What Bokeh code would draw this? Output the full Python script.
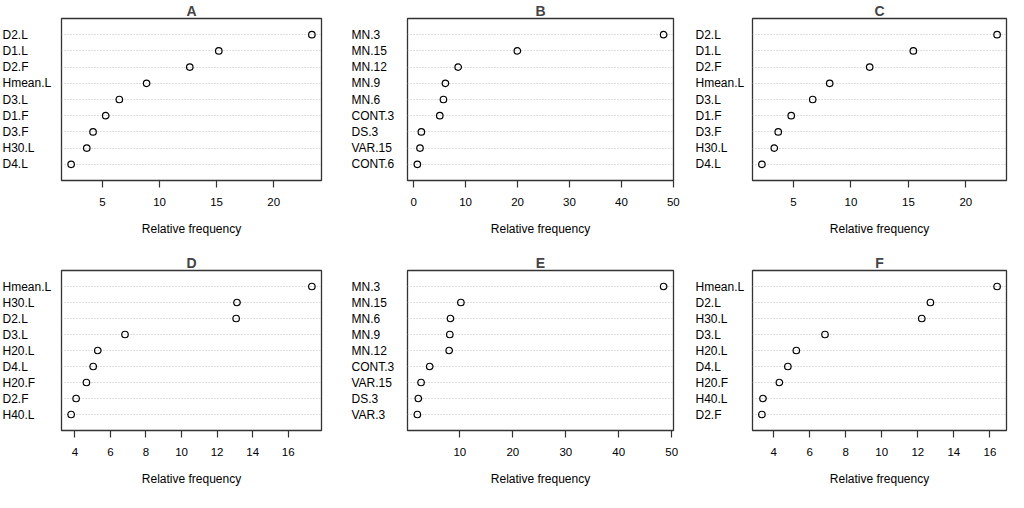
from bokeh.plotting import figure
from bokeh.layouts import column, row
from bokeh.models import Range1d, FixedTicker, Grid
from bokeh.core.properties import value
from bokeh.embed import file_html
from bokeh.resources import INLINE

# ---- data ----
titles = ["A", "B", "C", "D", "E", "F"]

A_labels = ["D2.L", "D1.L", "D2.F", "Hmean.L", "D3.L", "D1.F", "D3.F", "H30.L", "D4.L"]
A_values = [23.34, 15.19, 12.65, 8.87, 6.48, 5.29, 4.18, 3.63, 2.26]
A_ticks = [5, 10, 15, 20]

B_labels = ["MN.3", "MN.15", "MN.12", "MN.9", "MN.6", "CONT.3", "DS.3", "VAR.15", "CONT.6"]
B_values = [48.13, 19.97, 8.57, 6.12, 5.73, 5.03, 1.48, 1.22, 0.71]
B_ticks = [0, 10, 20, 30, 40, 50]

C_labels = ["D2.L", "D1.L", "D2.F", "Hmean.L", "D3.L", "D1.F", "D3.F", "H30.L", "D4.L"]
C_values = [22.72, 15.43, 11.63, 8.15, 6.67, 4.80, 3.67, 3.33, 2.25]
C_ticks = [5, 10, 15, 20]

D_labels = ["Hmean.L", "H30.L", "D2.L", "D3.L", "H20.L", "D4.L", "H20.F", "D2.F", "H40.L"]
D_values = [17.33, 13.12, 13.07, 6.82, 5.29, 5.03, 4.65, 4.07, 3.79]
D_ticks = [4, 6, 8, 10, 12, 14, 16]

E_labels = ["MN.3", "MN.15", "MN.6", "MN.9", "MN.12", "CONT.3", "VAR.15", "DS.3", "VAR.3"]
E_values = [48.48, 10.19, 8.23, 8.10, 7.98, 4.31, 2.67, 2.16, 1.97]
E_ticks = [10, 20, 30, 40, 50]

F_labels = ["Hmean.L", "D2.L", "H30.L", "D3.L", "H20.L", "D4.L", "H20.F", "H40.L", "D2.F"]
F_values = [16.40, 12.70, 12.22, 6.85, 5.26, 4.79, 4.32, 3.41, 3.35]
F_ticks = [4, 6, 8, 10, 12, 14, 16]

x_label = "Relative frequency"

FONT = "Liberation Sans"

# per column: (label column width, label x, main width, main border left, main border right)
col_geom = [(57, 2, 283, 4, 19), (63, 11, 277, 4, 7), (68, 15, 260, 4, 2)]
# per row: (height, border top, border bottom)
row_geom = [(242, 16, 62), (250, 28, 62)]


def dot_panel(title, labels, values, ticks, cg, rg):
    lw, lx, mw, bl, br = cg
    h, bt, bb = rg
    n = len(values)
    lo, hi = min(values), max(values)
    ext = (hi - lo) * 0.04
    ypos = list(range(n, 0, -1))
    yr = Range1d(0, n + 1)

    # label column
    q = figure(width=lw, height=h, output_backend="svg", toolbar_location=None,
               x_range=Range1d(0, lw), y_range=yr,
               x_axis_location=None, y_axis_location=None,
               min_border_left=0, min_border_right=0,
               min_border_top=bt, min_border_bottom=bb)
    q.outline_line_color = None
    q.grid.visible = False
    q.text(x=[lx] * n, y=ypos, text=labels, text_align="left", text_baseline="middle",
           text_font=value(FONT), text_font_size="12px", text_color="black")

    p = figure(width=mw, height=h, output_backend="svg", toolbar_location=None,
               x_range=Range1d(lo - ext, hi + ext), y_range=yr,
               y_axis_location=None, min_border_left=bl, min_border_right=br,
               min_border_top=bt, min_border_bottom=bb)
    p.outline_line_color = "#333333"
    p.outline_line_width = 1.3
    p.xgrid.visible = False
    p.ygrid.visible = False
    grid = Grid(dimension=1, ticker=FixedTicker(ticks=ypos),
                grid_line_color="#bdbdbd", grid_line_dash="1 2", grid_line_width=1)
    p.add_layout(grid)

    ax = p.xaxis[0]
    ax.ticker = FixedTicker(ticks=ticks)
    ax.axis_line_color = None
    ax.major_tick_in = 0
    ax.major_tick_out = 7
    ax.major_tick_line_color = "#333333"
    ax.major_tick_line_width = 1.2
    ax.minor_tick_line_color = None
    ax.major_label_standoff = 10
    ax.major_label_text_font = FONT
    ax.major_label_text_font_size = "11.5px"
    ax.major_label_text_color = "black"
    ax.axis_label = x_label
    ax.axis_label_text_font = FONT
    ax.axis_label_text_font_size = "12px"
    ax.axis_label_text_font_style = "normal"
    ax.axis_label_text_color = "black"
    ax.axis_label_standoff = 13

    p.title.text = title
    p.title.align = "center"
    p.title.text_font = FONT
    p.title.text_font_size = "14px"
    p.title.text_font_style = "bold"
    p.title.standoff = 0

    p.scatter(x=values, y=ypos, marker="circle", size=6.5, fill_color=None,
              line_color="black", line_width=1.2)
    return row(q, p)


panels = [
    (A_labels, A_values, A_ticks),
    (B_labels, B_values, B_ticks),
    (C_labels, C_values, C_ticks),
    (D_labels, D_values, D_ticks),
    (E_labels, E_values, E_ticks),
    (F_labels, F_values, F_ticks),
]

cells = []
for i, (labs, vals, tks) in enumerate(panels):
    cells.append(dot_panel(titles[i], labs, vals, tks, col_geom[i % 3], row_geom[i // 3]))

layout = column(row(*cells[:3]), row(*cells[3:]))

open("out.html", "w").write(file_html(layout, INLINE))
